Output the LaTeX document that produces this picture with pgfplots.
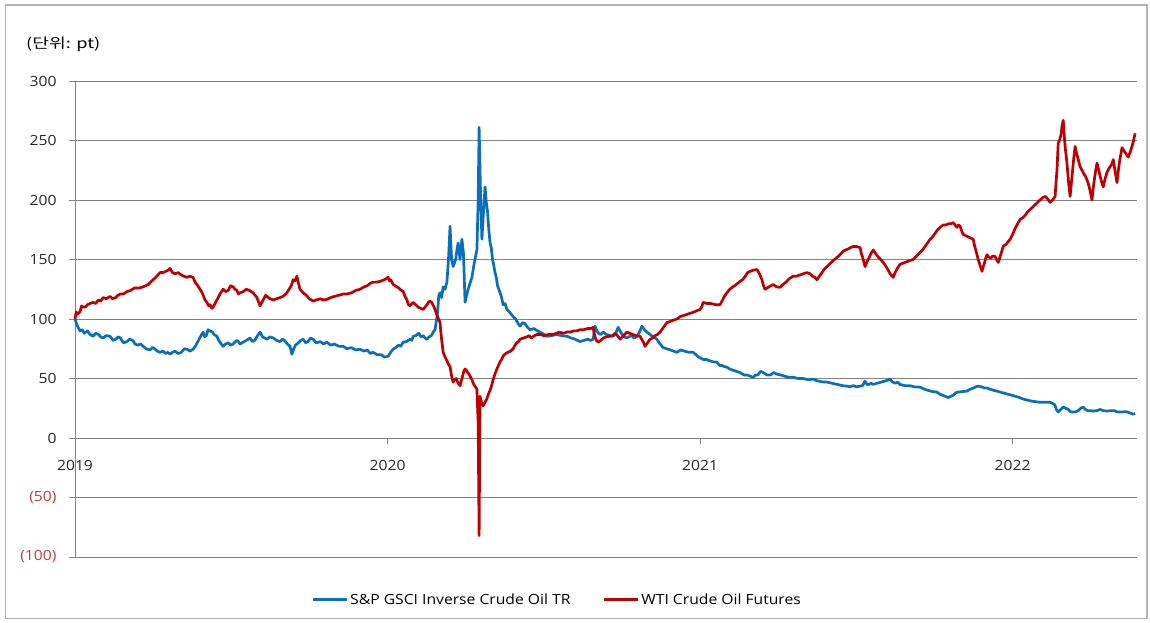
\documentclass[border=0pt]{standalone}
\usepackage{fontspec}
\setmainfont{Open Sans}[FakeStretch=1.12]
\newfontfamily\kr{Noto Sans CJK KR}[FakeStretch=1.3]
\usepackage{pgfplots}
\pgfplotsset{compat=1.18}
\definecolor{sblue}{RGB}{10,110,190}
\definecolor{wred}{RGB}{192,0,0}
\definecolor{negred}{RGB}{192,60,60}
\definecolor{gridgray}{RGB}{130,130,130}

\pgfplotstableread{
x y
2019.000 100
2019.006 95
2019.010 93
2019.016 90
2019.023 91
2019.030 88
2019.040 90
2019.048 87
2019.058 85.5
2019.066 88
2019.075 87
2019.082 85
2019.090 84
2019.100 86
2019.112 85.5
2019.122 82
2019.130 83
2019.138 85
2019.145 84
2019.155 80
2019.166 81
2019.175 83
2019.185 82
2019.192 79
2019.200 78
2019.210 79
2019.218 77
2019.228 75
2019.240 74
2019.248 76
2019.255 75
2019.263 73
2019.272 72
2019.282 73
2019.290 71
2019.298 72
2019.304 70.4
2019.312 72
2019.320 73
2019.330 71
2019.340 72
2019.350 75
2019.358 74.6
2019.368 73
2019.378 74.6
2019.387 78
2019.395 82
2019.403 86
2019.410 89
2019.415 85
2019.420 86
2019.426 91
2019.432 90
2019.440 89
2019.445 87
2019.454 85.5
2019.460 82
2019.465 80
2019.474 77
2019.482 79
2019.490 80
2019.498 78
2019.506 79
2019.513 81
2019.520 82
2019.528 79
2019.538 80.5
2019.548 82
2019.560 84
2019.568 81
2019.575 82
2019.584 86
2019.592 89
2019.600 85
2019.607 84
2019.614 83
2019.624 85
2019.635 84
2019.645 82
2019.656 81
2019.664 83
2019.670 82
2019.680 79
2019.688 77
2019.694 70.4
2019.700 75
2019.705 78
2019.715 80
2019.722 82
2019.730 83
2019.738 80
2019.745 81
2019.754 84
2019.762 83
2019.772 80
2019.785 81
2019.795 79
2019.806 80.5
2019.818 78
2019.830 79
2019.845 77
2019.858 77
2019.870 75
2019.885 76
2019.898 74
2019.912 74.6
2019.925 73
2019.935 74
2019.945 71
2019.954 72
2019.966 70
2019.980 70
2019.990 68
2020.002 68.7
2020.010 72
2020.018 74.6
2020.026 76
2020.035 78
2020.042 77
2020.050 80.5
2020.060 81
2020.072 83
2020.078 82
2020.082 85.5
2020.090 86
2020.100 88
2020.107 85
2020.114 86
2020.120 84
2020.126 83
2020.133 85
2020.140 86
2020.146 89
2020.152 91
2020.160 105
2020.164 120
2020.168 122
2020.173 118
2020.178 127
2020.184 125
2020.190 131
2020.195 150
2020.200 178
2020.205 150
2020.210 144
2020.218 150
2020.222 158
2020.226 164
2020.232 150
2020.238 167
2020.243 155
2020.248 114
2020.253 120
2020.258 125
2020.264 130
2020.270 135
2020.278 148
2020.286 158
2020.290 200
2020.293 261
2020.298 200
2020.302 167
2020.307 190
2020.312 211
2020.316 198
2020.320 190
2020.324 175
2020.328 164
2020.332 160
2020.336 150
2020.340 145
2020.344 139
2020.348 135
2020.352 128
2020.356 125
2020.360 122
2020.365 118
2020.370 112
2020.376 113
2020.382 108
2020.390 106
2020.402 102
2020.410 100
2020.418 96
2020.424 94
2020.432 97
2020.440 96
2020.448 93
2020.456 91
2020.468 92
2020.480 90
2020.495 88
2020.510 85.5
2020.525 86
2020.540 87
2020.557 86
2020.574 85.5
2020.588 84
2020.600 83
2020.608 82
2020.616 81
2020.628 82
2020.640 83
2020.650 82
2020.658 83
2020.664 94
2020.670 90
2020.675 88
2020.682 87
2020.690 89
2020.700 87
2020.712 86
2020.722 85.5
2020.730 88
2020.738 93
2020.746 89
2020.754 85.5
2020.765 84
2020.780 86
2020.790 84
2020.798 85.5
2020.806 89
2020.814 94
2020.822 91
2020.830 89
2020.845 86
2020.862 83
2020.872 79
2020.882 76
2020.893 75
2020.905 74
2020.915 73
2020.926 72
2020.938 74
2020.950 73
2020.965 72
2020.978 72
2020.995 68
2021.010 66
2021.020 66
2021.030 65
2021.042 64
2021.054 63.7
2021.062 61
2021.070 61
2021.078 60
2021.086 59.5
2021.095 58
2021.105 57
2021.116 56
2021.128 55
2021.140 53
2021.150 53
2021.160 52
2021.170 51
2021.178 53
2021.185 53
2021.194 56
2021.202 55
2021.214 53
2021.225 53
2021.236 55
2021.246 53.6
2021.258 53
2021.270 52
2021.284 51
2021.298 51
2021.314 50
2021.330 50
2021.346 49
2021.362 49.5
2021.375 48
2021.385 47.5
2021.396 47
2021.406 47
2021.422 46
2021.440 45
2021.455 44
2021.470 43.6
2021.480 43
2021.490 44
2021.500 43
2021.512 43.6
2021.520 44
2021.528 47.8
2021.534 45
2021.540 45
2021.547 46
2021.554 45
2021.566 46
2021.580 47
2021.594 48
2021.608 49.5
2021.616 47
2021.625 46
2021.632 47
2021.640 45
2021.655 44
2021.670 44
2021.686 43
2021.704 42.7
2021.718 41
2021.730 40
2021.744 39
2021.758 38.6
2021.766 37
2021.775 36
2021.785 35
2021.794 34
2021.802 35
2021.810 36
2021.818 38
2021.826 38.6
2021.840 39
2021.854 39.4
2021.864 41
2021.875 42
2021.882 43
2021.890 43.6
2021.900 43
2021.910 42
2021.918 42
2021.928 41
2021.940 40
2021.955 39
2021.968 38
2021.982 37
2021.996 36
2022.010 35
2022.022 34
2022.034 32.7
2022.046 32
2022.060 31
2022.074 30.5
2022.088 30
2022.104 30
2022.120 30
2022.128 29
2022.135 28
2022.140 24
2022.146 21.8
2022.154 24
2022.162 26
2022.170 25
2022.178 24
2022.186 22
2022.194 21.8
2022.202 22
2022.210 23
2022.218 25
2022.226 26
2022.233 24
2022.240 23
2022.250 23
2022.258 22.6
2022.270 23
2022.280 24
2022.290 23
2022.302 22.6
2022.314 23
2022.325 23
2022.335 22
2022.344 21.8
2022.355 22
2022.365 22
2022.376 21
2022.386 20
2022.392 20.5
}\inverse

\pgfplotstableread{
x y
2019.000 100
2019.004 106
2019.008 104
2019.016 106
2019.021 111
2019.026 110
2019.033 110
2019.040 112
2019.048 113
2019.058 114
2019.066 113
2019.075 116
2019.082 115
2019.090 118
2019.100 117
2019.112 119
2019.120 117
2019.130 118
2019.138 120
2019.145 121
2019.155 121
2019.166 123
2019.178 124
2019.190 126
2019.205 126
2019.218 127
2019.226 128
2019.235 129
2019.242 131
2019.250 133
2019.262 136
2019.272 139
2019.282 139
2019.290 140
2019.298 141
2019.304 142.5
2019.312 139
2019.320 138
2019.330 139
2019.340 137
2019.348 136
2019.358 135
2019.368 136
2019.378 135
2019.384 131
2019.390 129
2019.395 127
2019.400 125
2019.405 123
2019.410 120
2019.416 116
2019.422 114
2019.428 111
2019.432 112
2019.438 109
2019.442 110
2019.450 114
2019.458 118
2019.466 122
2019.474 125
2019.482 123
2019.490 124
2019.498 128
2019.506 127
2019.512 125
2019.518 124
2019.523 121
2019.528 122
2019.538 123
2019.548 125
2019.558 124
2019.570 122
2019.576 120
2019.582 118
2019.588 114
2019.592 111
2019.598 114
2019.604 117
2019.610 120
2019.614 119
2019.624 117
2019.635 116
2019.645 117
2019.656 118
2019.665 119
2019.675 121
2019.685 125
2019.692 128
2019.698 133
2019.704 132
2019.710 136
2019.715 130
2019.720 125
2019.730 122
2019.740 120
2019.750 117
2019.762 115
2019.772 116
2019.785 117
2019.795 116
2019.806 116.5
2019.818 118
2019.830 119
2019.845 120
2019.858 121
2019.870 121
2019.885 122
2019.898 124
2019.912 125
2019.925 127
2019.935 128
2019.945 130
2019.954 131
2019.965 131
2019.976 131.6
2019.990 133
2020.002 135
2020.006 132
2020.010 133
2020.018 129
2020.024 128
2020.030 127
2020.036 126
2020.040 125
2020.045 124
2020.050 123
2020.056 119
2020.062 116
2020.067 112
2020.072 111
2020.078 113
2020.082 114
2020.090 112
2020.098 110
2020.106 109
2020.114 108
2020.120 110
2020.126 112
2020.131 114
2020.136 115
2020.141 114
2020.145 112
2020.149 110
2020.152 108
2020.160 102
2020.168 97
2020.172 85
2020.178 72
2020.184 68
2020.190 65
2020.195 62
2020.200 60
2020.205 52
2020.210 47
2020.215 49
2020.220 50
2020.226 46
2020.232 44
2020.236 48
2020.240 52
2020.244 56
2020.248 58
2020.252 57
2020.256 55
2020.260 54
2020.264 52
2020.270 49
2020.276 45
2020.281 43
2020.286 41
2020.290 13
2020.293 -82
2020.296 35
2020.301 30
2020.306 27
2020.312 30
2020.318 33
2020.323 37
2020.328 40
2020.333 44
2020.338 49
2020.344 54
2020.350 58
2020.355 61
2020.360 64
2020.365 66
2020.370 69
2020.378 71
2020.385 72
2020.394 73
2020.402 75
2020.408 78
2020.414 80
2020.419 81
2020.424 83
2020.435 84
2020.446 85
2020.453 86
2020.460 84
2020.470 86
2020.478 87
2020.490 87
2020.500 86
2020.515 87
2020.530 87
2020.540 88
2020.550 89
2020.562 88
2020.574 89
2020.585 89
2020.595 90
2020.605 90
2020.616 91
2020.628 91
2020.640 92
2020.650 92
2020.658 93
2020.661 88
2020.664 85
2020.668 82
2020.674 80.5
2020.682 82
2020.690 84
2020.700 85
2020.712 85.5
2020.720 86
2020.728 88
2020.736 86
2020.744 83
2020.755 86
2020.766 89
2020.775 88
2020.785 87
2020.796 86
2020.808 85.5
2020.813 83
2020.818 81
2020.824 77
2020.832 80
2020.840 83
2020.848 84
2020.856 86
2020.864 87
2020.872 89
2020.883 93
2020.894 97
2020.905 98
2020.915 99
2020.926 100
2020.936 102
2020.948 103
2020.960 104
2020.970 105
2020.978 105.6
2020.990 107
2021.000 108
2021.005 110
2021.010 114
2021.022 113
2021.035 113
2021.050 112
2021.064 112
2021.072 116
2021.080 120
2021.086 122
2021.095 125
2021.105 127
2021.116 129
2021.128 131.6
2021.136 133
2021.145 136
2021.152 139
2021.160 140
2021.170 141
2021.182 141.6
2021.190 138
2021.198 133
2021.203 128
2021.208 125
2021.214 126
2021.220 127
2021.227 128
2021.234 129
2021.245 127
2021.256 126.6
2021.265 129
2021.275 131
2021.286 134
2021.298 136
2021.308 136
2021.320 137
2021.330 138
2021.342 139
2021.352 138
2021.360 136
2021.367 135
2021.374 133
2021.382 136
2021.390 139
2021.398 142
2021.406 144
2021.418 147
2021.430 150
2021.444 153
2021.458 157
2021.466 158
2021.475 159
2021.482 160
2021.490 161
2021.500 161
2021.512 160
2021.516 155
2021.520 152
2021.524 148
2021.528 144
2021.534 148
2021.540 151
2021.547 155
2021.554 158
2021.562 155
2021.570 152
2021.578 150
2021.586 147.5
2021.593 145
2021.600 142
2021.608 138
2021.618 135
2021.624 139
2021.630 142
2021.635 144
2021.640 146
2021.650 147
2021.660 148
2021.670 149
2021.682 150
2021.693 153
2021.704 156
2021.712 158
2021.720 161
2021.728 164
2021.736 167
2021.744 169
2021.752 172
2021.760 175
2021.768 177
2021.778 179
2021.786 179
2021.795 180
2021.802 180
2021.810 181
2021.816 179
2021.822 177
2021.827 179
2021.832 178
2021.837 174
2021.842 171
2021.850 170
2021.858 169
2021.866 168
2021.874 167
2021.878 162
2021.882 158
2021.886 154
2021.890 150
2021.896 145
2021.902 140
2021.906 144
2021.910 147
2021.914 151
2021.918 154
2021.924 152
2021.930 151
2021.937 153
2021.944 152.5
2021.949 150
2021.954 147.5
2021.962 154
2021.970 161
2021.975 162
2021.980 163
2021.986 165
2021.992 167
2022.000 171
2022.008 176
2022.016 180
2022.024 183.6
2022.032 185
2022.040 187
2022.048 190
2022.056 192
2022.064 194
2022.072 196
2022.080 198
2022.088 200
2022.096 202
2022.105 203
2022.112 201
2022.120 198
2022.128 200
2022.136 203
2022.139 215
2022.142 225
2022.146 248
2022.150 250
2022.155 255
2022.158 262
2022.162 267
2022.165 255
2022.168 245
2022.171 238
2022.174 231
2022.179 215
2022.184 203
2022.188 214
2022.192 225
2022.196 236
2022.200 245
2022.204 240
2022.208 236
2022.212 232
2022.216 228
2022.222 225
2022.228 222
2022.233 220
2022.238 217
2022.242 214
2022.246 210
2022.250 205
2022.254 200
2022.258 210
2022.262 218
2022.266 225
2022.270 231
2022.275 226
2022.280 220
2022.285 215
2022.290 211
2022.296 218
2022.302 223
2022.307 226
2022.312 228
2022.317 230
2022.322 234
2022.328 224
2022.334 214.6
2022.338 224
2022.342 232
2022.346 238
2022.350 244
2022.355 242
2022.360 240
2022.365 238
2022.370 236
2022.376 240
2022.382 245
2022.387 250
2022.392 256
}\wti

\begin{document}
\begin{tikzpicture}[x=1pt,y=1pt]
\useasboundingbox (0,0) rectangle (1150,623);
\draw[gray!60, line width=1.2pt] (5.5,4.5) rectangle (1147,618);
\node[anchor=west, inner sep=0pt, font=\kr\fontsize{14}{16}\selectfont] at (26,579) {(단위: pt)};
\begin{axis}[
  at={(75pt,66pt)}, anchor=south west,
  scale only axis, width=1062pt, height=476pt,
  xmin=2019, xmax=2022.398, ymin=-100, ymax=300,
  axis y line*=left, axis x line*=middle,
  hide obscured x ticks=false,
  axis line style={gridgray, line width=0.9pt},
  ymajorgrids, major grid style={gridgray, line width=0.9pt},
  xtick={2019,2020,2021,2022},
  xticklabels={2019,2020,2021,2022},
  ytick={-100,-50,0,50,100,150,200,250,300},
  yticklabels={\textcolor{negred}{(100)},\textcolor{negred}{(50)},0,50,100,150,200,250,300},
  xtick align=outside, ytick align=outside,
  major tick length=6pt,
  tick style={gridgray, line width=0.9pt},
  /pgf/number format/assume math mode=true,
  tick label style={font=\fontsize{14}{16}\selectfont, text=black!85},
  yticklabel style={xshift=-9pt},
  xticklabel style={yshift=-13pt},
  legend style={at={(0.454,-0.09)}, anchor=center, draw=none, fill=none,
    font=\fontsize{14}{16}\selectfont, legend columns=2,
    /tikz/every even column/.append style={column sep=30pt}},
  legend cell align=left,
  legend image code/.code={\draw[#1, line width=2.8pt] (0pt,0pt) -- (34pt,0pt);},
  clip=false,
]
\addplot[sblue, line width=2.7pt, line join=round] table[x=x,y=y] {\inverse};
\addlegendentry{S\&P GSCI Inverse Crude Oil TR}
\addplot[wred, line width=2.7pt, line join=round] table[x=x,y=y] {\wti};
\addlegendentry{WTI Crude Oil Futures}
\end{axis}
\end{tikzpicture}
\end{document}
